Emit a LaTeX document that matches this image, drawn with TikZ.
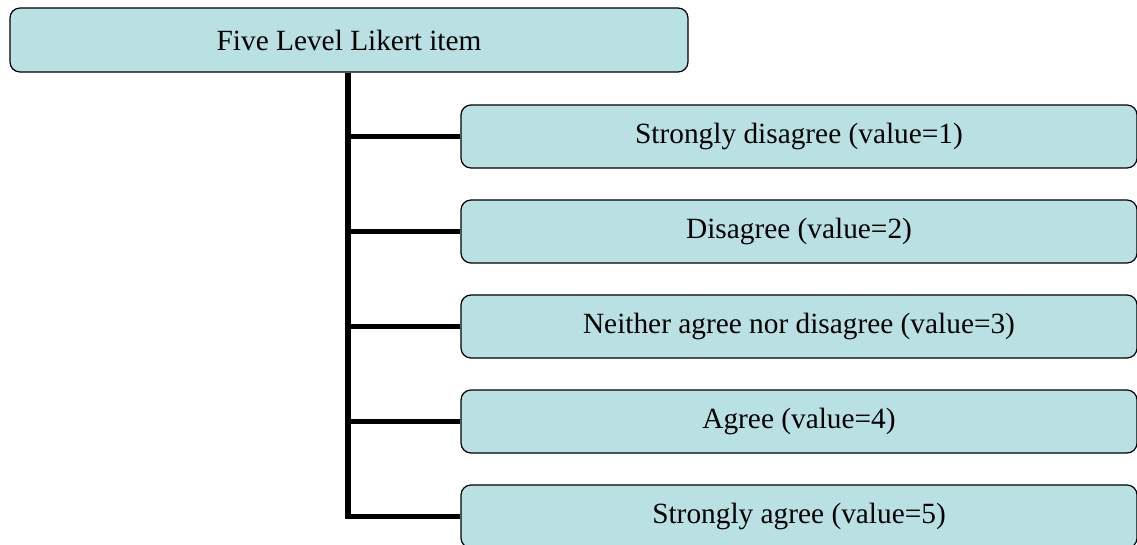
\documentclass[tikz,border=0pt]{standalone}
\usepackage{fontspec}
\setmainfont{Liberation Serif}
\definecolor{boxfill}{RGB}{185,224,227}
\begin{document}
\begin{tikzpicture}[x=0.75pt,y=-0.75pt,
    box/.style={draw=black,line width=0.9pt,fill=boxfill,rounded corners=7.5pt,
      font=\fontsize{22}{26}\selectfont,inner sep=0pt},
    link/.style={line width=4.2pt}]
        \useasboundingbox (0,0) rectangle (1137,545);
        \clip (0,0) rectangle (1137,545);

        \node[box,minimum width=508.5pt,minimum height=48pt] (item) at (349,40) {Five Level Likert item};

        \node[box,minimum width=507pt,minimum height=47.25pt] (sdis) at (799,136.5) {Strongly disagree (value=1)};
        \node[box,minimum width=507pt,minimum height=47.25pt] (dis) at (799,231.5) {Disagree (value=2)};
        \node[box,minimum width=507pt,minimum height=47.25pt] (neut) at (799,326.5) {Neither agree nor disagree (value=3)};
        \node[box,minimum width=507pt,minimum height=47.25pt] (agr) at (799,421.5) {Agree (value=4)};
        \node[box,minimum width=507pt,minimum height=47.25pt] (sagr) at (799,516.5) {Strongly agree (value=5)};

        \coordinate (trunk) at (348,72);
        \draw[link] (trunk |- item.south) |- (sagr.west);
        \draw[link] (trunk |- sdis.west) -- (sdis.west);
        \draw[link] (trunk |- dis.west) -- (dis.west);
        \draw[link] (trunk |- neut.west) -- (neut.west);
        \draw[link] (trunk |- agr.west) -- (agr.west);
      \end{tikzpicture}
\end{document}
